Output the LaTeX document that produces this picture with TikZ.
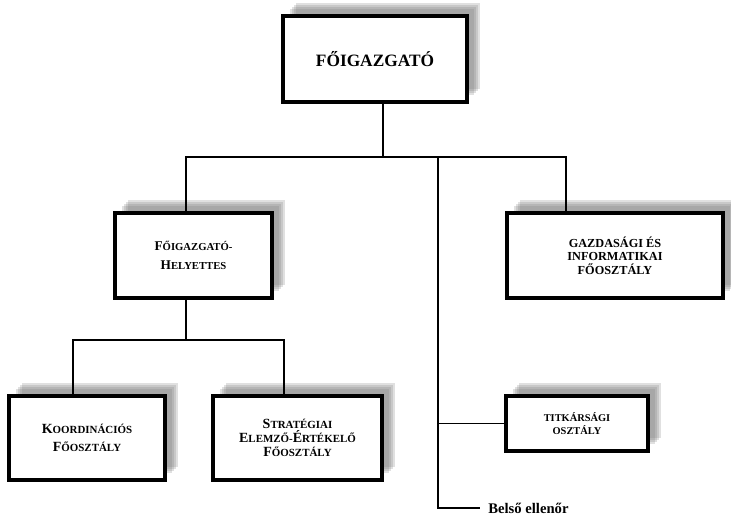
\documentclass[tikz,border=0pt]{standalone}
\usepackage{fontspec}
\setmainfont{Liberation Serif}
\usepackage{tikz}
\usetikzlibrary{positioning,shadows}

\newcommand\ini[2]{{\fontsize{#1}{#1}\selectfont #2}}

\tikzset{
  haze/.style={drop shadow={shadow xshift=#1, shadow yshift=#1, fill=black!55, opacity=.22}},
  unit/.style={draw, line width=2.5pt, fill=white, align=center, inner sep=2pt,
    haze=5pt, haze=6.5pt, haze=8pt, haze=9.5pt},
  link/.style={line width=1pt}
}

\begin{document}
\begin{tikzpicture}[x=0.75pt,y=-0.75pt,font=\bfseries]
  \useasboundingbox (0,0) rectangle (731,518);
  \node [unit, minimum width=138pt, minimum height=64.5pt, font=\bfseries\fontsize{13}{15}\selectfont] (top) at (375,59) {FŐIGAZGATÓ};
  \node [unit, minimum width=117.75pt, minimum height=63.75pt, font=\bfseries\fontsize{8}{14.5}\selectfont] (dep) at (193.5,255.5) {\ini{10}{F}ŐIGAZGATÓ-\\\ini{10}{H}ELYETTES};
  \node [unit, minimum width=162pt, minimum height=63.75pt, font=\bfseries\fontsize{9.2}{10.2}\selectfont] (gazd) at (615,255.5) {GAZDASÁGI ÉS\\INFORMATIKAI\\FŐOSZTÁLY};
  \node [unit, minimum width=117pt, minimum height=63pt, font=\bfseries\fontsize{8.2}{13.3}\selectfont] (koord) at (87,438) {\ini{10.5}{K}OORDINÁCIÓS\\\ini{10.5}{F}ŐOSZTÁLY};
  \node [unit, minimum width=126.75pt, minimum height=63pt, font=\bfseries\fontsize{8.2}{10.25}\selectfont] (strat) at (297.5,438) {\ini{10.5}{S}TRATÉGIAI\\\ini{10.5}{E}LEMZŐ-\ini{10.5}{É}RTÉKELŐ\\\ini{10.5}{F}ŐOSZTÁLY};
  \node [unit, minimum width=106.5pt, minimum height=41.25pt, font=\bfseries\fontsize{7.8}{10}\selectfont] (titk) at (577,423.5) {TITKÁRSÁGI\\OSZTÁLY};

  % buses
  \coordinate (bus) at (383,157);
  \coordinate (b1) at (186,157);
  \coordinate (b2) at (566,157);
  \coordinate (b3) at (438,157);
  \coordinate (c1) at (186,340);
  \coordinate (c2) at (73,340);
  \coordinate (c3) at (284,340);
  \coordinate (e1) at (438,508);
  \coordinate (e2) at (480,508);
  \node [right=6pt of e2, anchor=west, inner sep=0pt, font=\bfseries\fontsize{11}{13}\selectfont] (belso) {Belső ellenőr};

  \draw[link] (top.south -| bus) -- (bus);
  \draw[link] (dep.north -| b1) -- (b1) -- (b2) -- (gazd.north -| b2);
  \draw[link] (b3) -- (e1) -- (e2);
  \draw[link] (b3 |- titk.west) -- (titk.west);
  \draw[link] (dep.south -| c1) -- (c1);
  \draw[link] (koord.north -| c2) -- (c2) -- (c3) -- (strat.north -| c3);
\end{tikzpicture}
\end{document}
